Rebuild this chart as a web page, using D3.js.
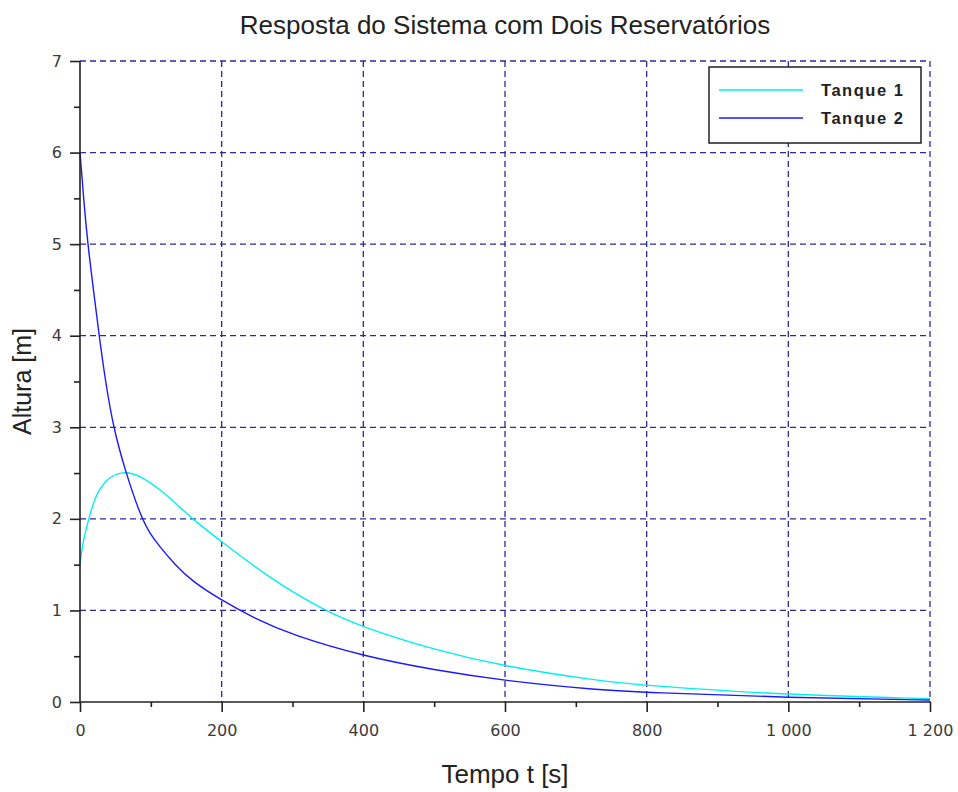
<!DOCTYPE html>
<html>
<head>
<meta charset="utf-8">
<script src="https://cdn.jsdelivr.net/npm/d3@7"></script>
<style>
body { margin: 0; background: #fff; }
text { font-family: "Liberation Sans", Arial, sans-serif; }
</style>
</head>
<body>
<script>
// values
var tanque1 = [
    {t: 0, h: 1.5}, {t: 4, h: 1.75}, {t: 12, h: 1.99}, {t: 21, h: 2.24},
    {t: 35, h: 2.42}, {t: 59, h: 2.53}, {t: 87, h: 2.47}, {t: 120, h: 2.28},
    {t: 158, h: 2.0}, {t: 200, h: 1.75}, {t: 268, h: 1.35}, {t: 344, h: 1.0},
    {t: 400, h: 0.815}, {t: 500, h: 0.57}, {t: 600, h: 0.386}, {t: 734, h: 0.23},
    {t: 800, h: 0.18}, {t: 1000, h: 0.076}, {t: 1200, h: 0.036}
];
var tanque2 = [
    {t: 0, h: 6.0}, {t: 2, h: 5.82}, {t: 5, h: 5.5}, {t: 11, h: 5.0},
    {t: 19, h: 4.5}, {t: 27, h: 4.0}, {t: 36, h: 3.5}, {t: 47, h: 3.0},
    {t: 64, h: 2.52}, {t: 87, h: 2.0}, {t: 99, h: 1.84}, {t: 111, h: 1.71},
    {t: 134, h: 1.50}, {t: 158, h: 1.32}, {t: 200, h: 1.11}, {t: 247, h: 0.91},
    {t: 300, h: 0.73}, {t: 400, h: 0.50}, {t: 500, h: 0.35}, {t: 600, h: 0.23},
    {t: 734, h: 0.13}, {t: 800, h: 0.105}, {t: 1000, h: 0.047}, {t: 1200, h: 0.022}
];
var xTicks = [0, 200, 400, 600, 800, 1000, 1200];
var yTicks = [0, 1, 2, 3, 4, 5, 6, 7];
var series = [
    {name: "Tanque 1", color: "#00f0f0", data: tanque1},
    {name: "Tanque 2", color: "#1a1aff", data: tanque2}
];

var svg = d3.select("body")
    .append("svg")
    .attr("width", 958)
    .attr("height", 792)
    .style("display", "block");

var margin = {top: 61, right: 28, bottom: 90, left: 80};
var width = 958 - margin.left - margin.right;
var height = 792 - margin.top - margin.bottom;
var g = svg.append("g").attr("transform", "translate(" + margin.left + "," + margin.top + ")");

var x = d3.scaleLinear().domain([0, 1200]).range([0, width]);
var y = d3.scaleLinear().domain([0, 7]).range([height, 0]);

var gridColor = "#2a2a9c";

// grid
g.selectAll(".gx")
    .data(xTicks.slice(1))
    .enter().append("line")
    .attr("x1", function(d) { return x(d); })
    .attr("x2", function(d) { return x(d); })
    .attr("y1", 0).attr("y2", height)
    .attr("stroke", gridColor).attr("stroke-width", 1.3)
    .attr("stroke-dasharray", "6,4");

g.selectAll(".gy")
    .data(yTicks.slice(1))
    .enter().append("line")
    .attr("x1", 0).attr("x2", width)
    .attr("y1", function(d) { return y(d); })
    .attr("y2", function(d) { return y(d); })
    .attr("stroke", gridColor).attr("stroke-width", 1.3)
    .attr("stroke-dasharray", "6,4");

// curves
var line = d3.line()
    .x(function(d) { return x(d.t); })
    .y(function(d) { return y(d.h); })
    .curve(d3.curveBasis);

series.forEach(function(s) {
    g.append("path")
        .datum(s.data)
        .attr("fill", "none")
        .attr("stroke", s.color)
        .attr("stroke-width", 1.4)
        .attr("d", line);
});

// axes
var fmt = function(d) { return d3.format(",")(d).replace(",", " "); };

var xAxis = d3.axisBottom(x).tickValues(xTicks).tickSize(10).tickPadding(13).tickFormat(fmt);
var xMinor = d3.axisBottom(x).tickValues(d3.range(100, 1200, 200)).tickSize(5).tickFormat("");
var yAxis = d3.axisLeft(y).tickValues(yTicks).tickSize(10).tickPadding(8).tickFormat(d3.format("d"));
var yMinor = d3.axisLeft(y).tickValues(d3.range(0.5, 7, 1)).tickSize(6).tickFormat("");

function styleAxis(sel) {
    sel.select(".domain").remove();
    sel.selectAll(".tick line").attr("stroke", "#222").attr("stroke-width", 1.6);
    sel.selectAll("text")
        .style("font-family", "'DejaVu Sans', sans-serif")
        .style("font-size", "16px")
        .attr("fill", "#3a3a3a");
}

g.append("g").attr("transform", "translate(0," + height + ")").call(xMinor).call(styleAxis);
g.append("g").attr("transform", "translate(0," + height + ")").call(xAxis).call(styleAxis);
g.append("g").call(yMinor).call(styleAxis);
g.append("g").call(yAxis).call(styleAxis);
g.append("line").attr("x1", 0).attr("x2", width).attr("y1", height).attr("y2", height)
    .attr("stroke", "#222").attr("stroke-width", 1.6);
g.append("line").attr("x1", 0).attr("x2", 0).attr("y1", 0).attr("y2", height)
    .attr("stroke", "#222").attr("stroke-width", 1.6);

// titles
svg.append("text")
    .attr("x", margin.left + width / 2)
    .attr("y", 34)
    .attr("text-anchor", "middle")
    .style("font-size", "26px")
    .attr("fill", "#222")
    .text("Resposta do Sistema com Dois Reservatórios");

svg.append("text")
    .attr("x", margin.left + width / 2)
    .attr("y", 783)
    .attr("text-anchor", "middle")
    .style("font-size", "26px")
    .attr("fill", "#222")
    .text("Tempo t [s]");

svg.append("text")
    .attr("transform", "translate(31," + (margin.top + height / 2) + ") rotate(-90)")
    .attr("text-anchor", "middle")
    .style("font-size", "25px")
    .attr("fill", "#222")
    .text("Altura [m]");

// legend
var legend = svg.append("g").attr("transform", "translate(709,67)");
legend.append("rect")
    .attr("width", 212).attr("height", 76)
    .attr("fill", "#fff").attr("stroke", "#111").attr("stroke-width", 1.4);
series.forEach(function(s, i) {
    var ly = 23 + i * 28;
    legend.append("line")
        .attr("x1", 10).attr("x2", 94)
        .attr("y1", ly).attr("y2", ly)
        .attr("stroke", s.color).attr("stroke-width", 1.6);
    legend.append("text")
        .attr("x", 112).attr("y", ly + 6)
        .attr("textLength", 82)
        .attr("lengthAdjust", "spacing")
        .style("font-size", "16.5px")
        .style("font-weight", "bold")
        .attr("fill", "#222")
        .text(s.name);
});
</script>
</body>
</html>
